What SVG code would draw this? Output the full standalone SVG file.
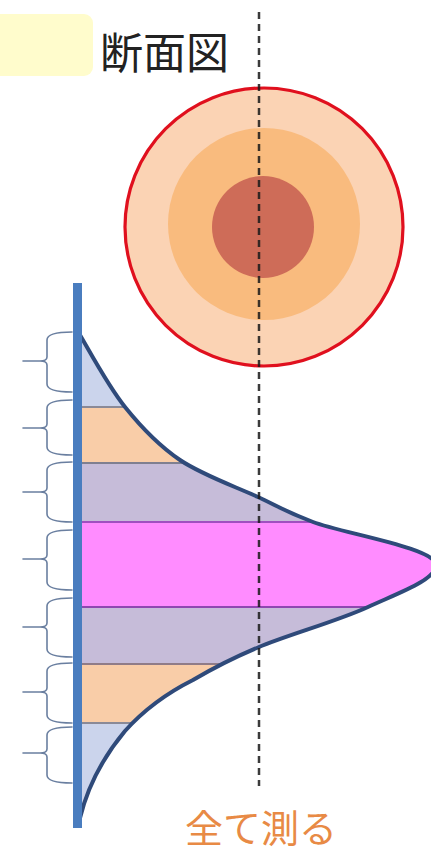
<svg xmlns="http://www.w3.org/2000/svg" width="431" height="853" viewBox="0 0 431 853">
  <style>
    .brace { fill: none; stroke: #6a7fa0; stroke-width: 1.6; stroke-linecap: round; }
    .sep { stroke-width: 1.8; }
    .jp { font-family: "Noto Sans CJK JP", "Noto Sans", sans-serif; }
  </style>
  <defs>
    <clipPath id="bell">
      <path d="M80,335 C90,352 108.3,386.2 125,407 C141.7,427.8 157.8,445 180,460 C202.2,475 235.8,486.7 258,497 C280.2,507.3 283.3,510.7 313,522 C342.7,533.3 436,548 436,565 C436,580 397.5,593.3 368,607 C338.5,620.7 288.2,634.8 259,647 C229.8,659.2 214.5,667.3 193,680 C165,694 142,712 125,731 C105,755 88,785 80,818 Z"/>
    </clipPath>
  </defs>
  <rect width="431" height="853" fill="#ffffff"/>

  <g id="legend">
    <rect x="-10" y="14" width="103" height="62" rx="9" fill="#FFFCCC"/>
    <text class="jp" x="100" y="69" font-size="43" fill="#222222">断面図</text>
  </g>

  <g id="cross-section">
    <circle cx="264" cy="227" r="139" fill="#FBD3B4" stroke="#E0101E" stroke-width="3.2"/>
    <circle cx="264" cy="224" r="96" fill="#F9BB7E"/>
    <circle cx="263" cy="227" r="51" fill="#CE6C58"/>
  </g>

  <g id="distribution">
    <g clip-path="url(#bell)">
      <rect x="78" y="330" width="360" height="77" fill="#CBD4EC"/>
      <rect x="78" y="407" width="360" height="56" fill="#F9CDA8"/>
      <rect x="78" y="463" width="360" height="59" fill="#C6BCD9"/>
      <rect x="78" y="522" width="360" height="85" fill="#FF8CFF"/>
      <rect x="78" y="607" width="360" height="57" fill="#C6BCD9"/>
      <rect x="78" y="664" width="360" height="59" fill="#F9CDA8"/>
      <rect x="78" y="723" width="360" height="100" fill="#CBD4EC"/>
      <line class="sep" x1="78" y1="407" x2="438" y2="407" stroke="#8a8a98"/>
      <line class="sep" x1="78" y1="463" x2="438" y2="463" stroke="#7f7f90"/>
      <line class="sep" x1="78" y1="522" x2="438" y2="522" stroke="#A050C0"/>
      <line class="sep" x1="78" y1="607" x2="438" y2="607" stroke="#8E48B0"/>
      <line class="sep" x1="78" y1="664" x2="438" y2="664" stroke="#907C88"/>
      <line class="sep" x1="78" y1="723" x2="438" y2="723" stroke="#8a8a98"/>
    </g>
    <path d="M80,335 C90,352 108.3,386.2 125,407 C141.7,427.8 157.8,445 180,460 C202.2,475 235.8,486.7 258,497 C280.2,507.3 283.3,510.7 313,522 C342.7,533.3 436,548 436,565 C436,580 397.5,593.3 368,607 C338.5,620.7 288.2,634.8 259,647 C229.8,659.2 214.5,667.3 193,680 C165,694 142,712 125,731 C105,755 88,785 80,818" fill="none" stroke="#2F4A7A" stroke-width="4"/>
    <rect x="73" y="283" width="9" height="545" fill="#4A7DBF"/>
  </g>

  <g id="braces">
    <path class="brace" d="M72,332 Q47,332 47,340 V357 Q47,361 40,361 H23 M40,361 Q47,361 47,365 V384 Q47,392 72,392"/>
    <path class="brace" d="M72,400 Q47,400 47,408 V424 Q47,428 40,428 H23 M40,428 Q47,428 47,432 V447 Q47,455 72,455"/>
    <path class="brace" d="M72,462 Q47,462 47,470 V488 Q47,492 40,492 H23 M40,492 Q47,492 47,496 V514 Q47,522 72,522"/>
    <path class="brace" d="M72,530 Q47,530 47,538 V555 Q47,559 40,559 H23 M40,559 Q47,559 47,563 V582 Q47,590 72,590"/>
    <path class="brace" d="M72,598 Q47,598 47,606 V623 Q47,627 40,627 H23 M40,627 Q47,627 47,631 V649 Q47,657 72,657"/>
    <path class="brace" d="M72,663 Q47,663 47,671 V688 Q47,692 40,692 H23 M40,692 Q47,692 47,696 V715 Q47,723 72,723"/>
    <path class="brace" d="M72,727 Q47,727 47,735 V749 Q47,753 40,753 H23 M40,753 Q47,753 47,757 V775 Q47,783 72,783"/>
  </g>

  <g id="connectors">
    <line x1="259" y1="12" x2="259" y2="786" stroke="#1a1a1a" stroke-width="2.5" stroke-dasharray="7 5" opacity="0.85"/>
  </g>

  <g id="caption">
    <text class="jp" x="185" y="842" font-size="38" fill="#E88A45">全て測る</text>
  </g>
</svg>
